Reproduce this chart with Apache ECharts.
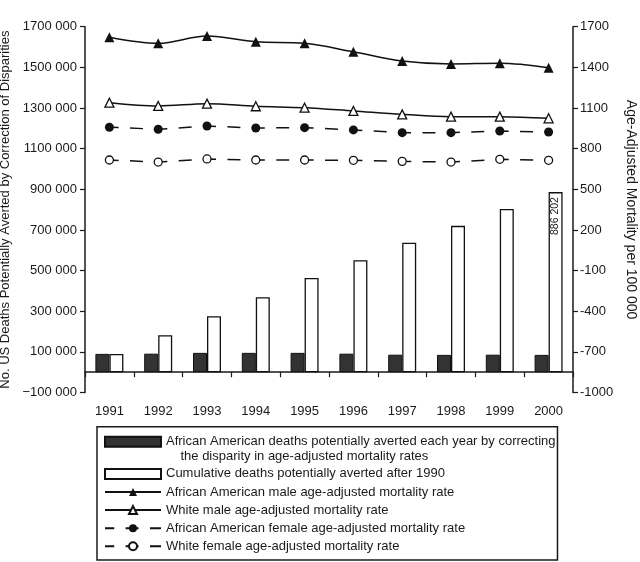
<!DOCTYPE html>
<html><head><meta charset="utf-8">
<script src="https://cdn.jsdelivr.net/npm/echarts@6/dist/echarts.min.js"></script>
<style>html,body{margin:0;padding:0;background:#fff}#c{width:640px;height:562px}</style>
</head><body><div id="c"></div>
<script>
// ---- data ----
const years = ['1991','1992','1993','1994','1995','1996','1997','1998','1999','2000'];
const annualAverted = [90000, 91000, 95000, 95000, 95000, 91000, 86000, 85000, 86000, 85000];
const cumulativeAverted = [90000, 182000, 275000, 369000, 464000, 551000, 637000, 720000, 803000, 886202];
const aaMaleRate = [1622, 1577, 1631, 1589, 1577, 1515, 1447, 1425, 1430, 1397];
const whiteMaleRate = [1139, 1115, 1132, 1113, 1102, 1078, 1053, 1036, 1036, 1024];
const aaFemaleRate = [958, 943, 967, 952, 955, 938, 918, 918, 930, 923];
const whiteFemaleRate = [716, 701, 724, 716, 716, 714, 706, 701, 721, 714];
const leftTicks = [-100000, 100000, 300000, 500000, 700000, 900000, 1100000, 1300000, 1500000, 1700000];
const rightTicks = [-1000, -700, -400, -100, 200, 500, 800, 1100, 1400, 1700];
const seriesNames = [
  'African American deaths potentially averted each year by correcting the disparity in age-adjusted mortality rates',
  'Cumulative deaths potentially averted after 1990',
  'African American male age-adjusted mortality rate',
  'White male age-adjusted mortality rate',
  'African American female age-adjusted mortality rate',
  'White female age-adjusted mortality rate'
];
const leftAxisName = 'No. US Deaths Potentially Averted by Correction of Disparities';
const rightAxisName = 'Age-Adjusted Mortality per 100 000';

// ---- helpers ----
const FONT = 'Liberation Sans, Arial, sans-serif';
const INK = '#1a1a1a';
function groupNum(v) {
  const a = Math.abs(v);
  return a >= 1000 ? Math.floor(a / 1000) + ' ' + String(a % 1000).padStart(3, '0') : String(a);
}
function fmtLeft(v) { return (v < 0 ? '\u2212' : '') + groupNum(v); }
function fmtRight(v) { return String(v); }

const chart = echarts.init(document.getElementById('c'), null, {renderer: 'canvas'});
const lastIdx = cumulativeAverted.length - 1;

const option = {
  animation: false,
  backgroundColor: '#fff',
  textStyle: {fontFamily: FONT, color: INK},
  grid: {left: 85, right: 67, top: 26.7, bottom: 169.5, containLabel: false, outerBoundsMode: 'none'},
  legend: {
    orient: 'vertical',
    left: 97, top: 426.7,
    padding: [-6.75, 2, 6, 7],
    itemWidth: 56, itemHeight: 10, itemGap: 2.8,
    borderColor: INK, borderWidth: 1.5, borderRadius: 0,
    selectedMode: false,
    textStyle: {fontFamily: FONT, fontSize: 13, color: INK, lineHeight: 15.3},
    data: [
      {name: seriesNames[0], icon: 'rect', textStyle: {lineHeight: 14.5}},
      {name: seriesNames[1], icon: 'rect'},
      seriesNames[2], seriesNames[3], seriesNames[4], seriesNames[5]
    ],
    formatter: function (name) {
      if (name === seriesNames[0]) {
        return '\nAfrican American deaths potentially averted each year by correcting\n    the disparity in age-adjusted mortality rates';
      }
      return name;
    }
  },
  xAxis: {
    type: 'category',
    data: years,
    boundaryGap: true,
    axisLine: {show: true, onZero: true, lineStyle: {color: INK, width: 1.5}},
    axisTick: {show: true, length: 5, alignWithLabel: false, lineStyle: {color: INK, width: 1.2}},
    axisLabel: {margin: 12, fontSize: 13, color: INK, fontFamily: FONT},
    splitLine: {show: false}
  },
  yAxis: [
    {
      type: 'value', position: 'left',
      min: -100000, max: 1700000,
      axisLine: {show: true, onZero: false, lineStyle: {color: INK, width: 1.5}},
      axisTick: {show: true, length: 5, customValues: leftTicks, lineStyle: {color: INK, width: 1.2}},
      axisLabel: {customValues: leftTicks, formatter: fmtLeft, fontSize: 13, color: INK, fontFamily: FONT, margin: 8},
      splitLine: {show: false},
      name: leftAxisName, nameLocation: 'middle', nameGap: 70, nameRotate: 90,
      nameTextStyle: {fontSize: 13, color: INK, fontFamily: FONT}
    },
    {
      type: 'value', position: 'right',
      min: -1000, max: 1700,
      axisLine: {show: true, onZero: false, lineStyle: {color: INK, width: 1.5}},
      axisTick: {show: true, length: 5, customValues: rightTicks, lineStyle: {color: INK, width: 1.2}},
      axisLabel: {customValues: rightTicks, formatter: fmtRight, fontSize: 13, color: INK, fontFamily: FONT, margin: 7},
      splitLine: {show: false},
      name: rightAxisName, nameLocation: 'middle', nameGap: 51, nameRotate: -90,
      nameTextStyle: {fontSize: 14, color: INK, fontFamily: FONT}
    }
  ],
  series: [
    {
      name: seriesNames[0], type: 'bar', yAxisIndex: 0,
      data: annualAverted,
      barWidth: 14, barGap: '0%',
      itemStyle: {color: '#333333', borderColor: '#111', borderWidth: 1}
    },
    {
      name: seriesNames[1], type: 'bar', yAxisIndex: 0,
      data: cumulativeAverted,
      barWidth: 14, barGap: '0%',
      itemStyle: {color: '#ffffff', borderColor: '#111', borderWidth: 1.3},
      label: {
        show: true, position: 'insideTop', rotate: 90, distance: 5,
        align: 'right', verticalAlign: 'middle',
        fontSize: 10.5, color: INK, fontFamily: FONT,
        formatter: function (p) { return p.dataIndex === lastIdx ? groupNum(p.value) : ''; }
      }
    },
    {
      name: seriesNames[2], type: 'line', yAxisIndex: 1,
      data: aaMaleRate, smooth: 0.35,
      symbol: 'triangle', symbolSize: 10,
      lineStyle: {color: '#111', width: 1.5},
      itemStyle: {color: '#111', borderColor: '#111', borderWidth: 0}
    },
    {
      name: seriesNames[3], type: 'line', yAxisIndex: 1,
      data: whiteMaleRate, smooth: 0.35,
      symbol: 'triangle', symbolSize: 9,
      lineStyle: {color: '#111', width: 1.5},
      itemStyle: {color: '#fff', borderColor: '#111', borderWidth: 1.3}
    },
    {
      name: seriesNames[4], type: 'line', yAxisIndex: 1,
      data: aaFemaleRate,
      symbol: 'circle', symbolSize: 9,
      lineStyle: {color: '#111', width: 1.5, type: [13, 11.4], dashOffset: 3.8},
      itemStyle: {color: '#111', borderColor: '#111', borderWidth: 0}
    },
    {
      name: seriesNames[5], type: 'line', yAxisIndex: 1,
      data: whiteFemaleRate,
      symbol: 'circle', symbolSize: 8,
      lineStyle: {color: '#111', width: 1.5, type: [13, 11.4], dashOffset: 3.8},
      itemStyle: {color: '#fff', borderColor: '#111', borderWidth: 1.3}
    }
  ]
};
chart.setOption(option);
</script>
</body></html>
